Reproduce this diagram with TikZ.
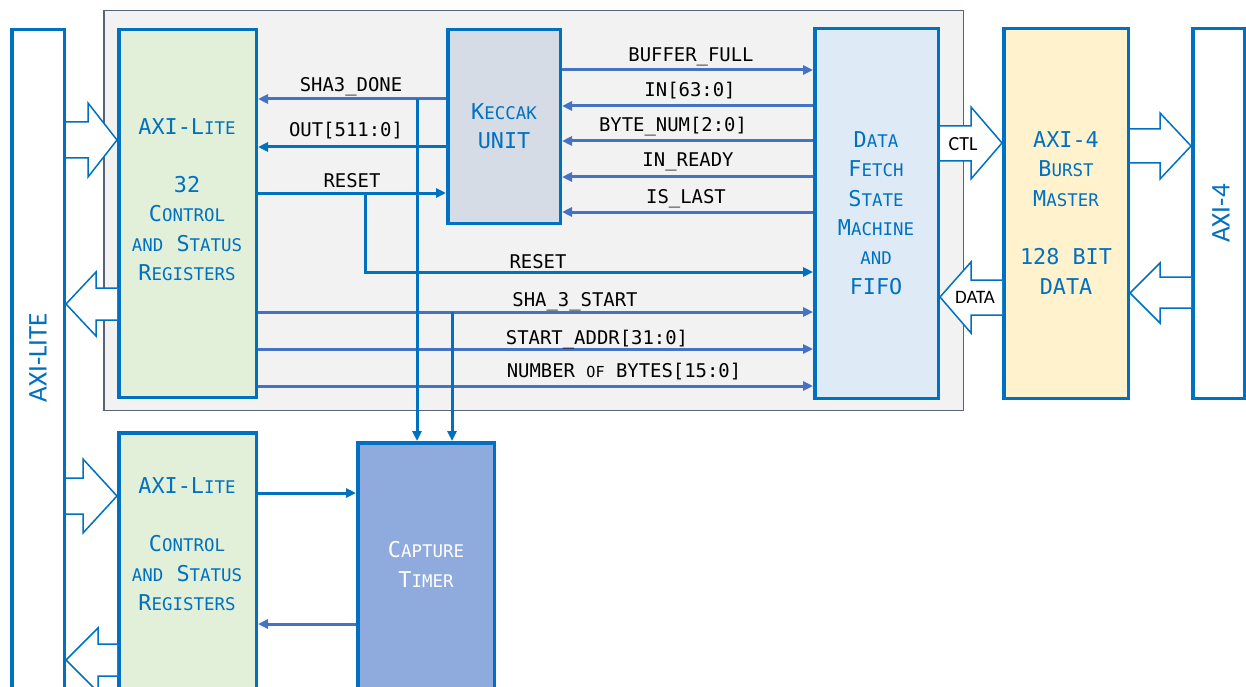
\documentclass[tikz,border=0pt]{standalone}
\usepackage{fontspec}
\usetikzlibrary{arrows.meta}
\newfontfamily\monof{DejaVu Sans Mono}
\newfontfamily\carlf{Carlito}
\makeatletter
\newcommand\smc[1]{{\@tempdima=\f@size pt\@tempdima=0.8\@tempdima\fontsize{\strip@pt\@tempdima}{\baselineskip}\selectfont #1}}
\makeatother
\definecolor{cblue}{HTML}{0070C0}
\definecolor{clight}{HTML}{4472C4}
\definecolor{fgreen}{HTML}{E2F0D9}
\definecolor{fkec}{HTML}{D6DCE5}
\definecolor{fdfsm}{HTML}{DEEBF7}
\definecolor{fmaster}{HTML}{FFF2CC}
\definecolor{fcap}{HTML}{8FAADC}
\definecolor{fframe}{HTML}{F2F2F2}
\definecolor{cframe}{HTML}{596378}
\begin{document}
\begin{tikzpicture}[x=1pt,y=-1pt,
  box/.style={draw=cblue, line width=3.5pt, inner sep=0pt, anchor=north west},
  sigA/.style={draw=cblue, line width=3pt, -{Triangle[length=10pt,width=9pt]}},
  sigB/.style={draw=clight, line width=3pt, -{Triangle[length=10pt,width=9pt]}},
  lbl/.style={font=\monof\fontsize{18.9}{22}\selectfont, anchor=base, inner sep=0pt},
  btxt/.style={font=\monof\fontsize{21.8}{29.3}\selectfont, text=cblue, align=center, inner sep=0pt},
  barlbl/.style={font=\carlf\fontsize{27}{30}\selectfont, text=cblue, rotate=90, inner sep=0pt},
  blk/.style={draw=cblue, fill=white, line width=1.5pt, line join=miter}]
\useasboundingbox (0,0) rectangle (1246,687);
\clip (0,0) rectangle (1246,687);
% frame
\node[draw=cframe, fill=fframe, line width=1.5pt, inner sep=0pt, anchor=north west,
  minimum width=859.5, minimum height=399.5] (frame) at (103,10) {};
% boxes
\node[box, fill=white, minimum width=52.5, minimum height=668] (axil) at (10,28) {};
\node[box, fill=fgreen, minimum width=137.5, minimum height=367.5] (csr1) at (117,28) {};
\node[box, fill=fkec, minimum width=112.5, minimum height=193.5] (keccak) at (446,28) {};
\node[box, fill=fdfsm, minimum width=123.5, minimum height=369.5] (dfsm) at (813,27) {};
\node[box, fill=fmaster, minimum width=124.5, minimum height=369.5] (master) at (1002,27) {};
\node[box, fill=white, minimum width=51.5, minimum height=369.5] (axi4) at (1191,27) {};
\node[box, fill=fgreen, minimum width=137.5, minimum height=265.5] (csr2) at (117,431) {};
\node[box, fill=fcap, minimum width=136.5, minimum height=255.5] (capture) at (356,441) {};
% box texts
\node[btxt] (csr1txt) at (187,199.5) {AXI-L\smc{ITE}\\[29.3pt]32\\C\smc{ONTROL}\\\smc{AND} S\smc{TATUS}\\R\smc{EGISTERS}};
\node[btxt] (kectxt) at (504,126) {K\smc{ECCAK}\\UNIT};
\node[btxt] (dfsmtxt) at (876,213) {D\smc{ATA}\\F\smc{ETCH}\\S\smc{TATE}\\M\smc{ACHINE}\\\smc{AND}\\FIFO};
\node[btxt] (mastertxt) at (1066,213) {AXI-4\\B\smc{URST}\\M\smc{ASTER}\\[29.3pt]128 BIT\\DATA};
\node[btxt] (csr2txt) at (187,544) {AXI-L\smc{ITE}\\[29.3pt]C\smc{ONTROL}\\\smc{AND} S\smc{TATUS}\\R\smc{EGISTERS}};
\node[btxt, text=white] (captxt) at (426,564.5) {C\smc{APTURE}\\T\smc{IMER}};
\node[barlbl] (axiltxt) at (38,357.5) {AXI-LITE};
\node[barlbl] (axi4txt) at (1221,213.5) {AXI-4};
% block arrows
\draw[blk] (axil.east |- 0,122) -- (88,122) -- (88,103) -- (csr1.west |- 0,140) -- (88,177) -- (88,158) -- (axil.east |- 0,158);
\draw[blk] (csr1.west |- 0,288) -- (96,288) -- (96,272) -- (axil.east |- 0,304) -- (96,336) -- (96,320) -- (csr1.west |- 0,320);
\draw[blk] (axil.east |- 0,478) -- (83,478) -- (83,459) -- (csr2.west |- 0,496) -- (83,533) -- (83,514) -- (axil.east |- 0,514);
\draw[blk] (csr2.west |- 0,644) -- (98,644) -- (98,628) -- (axil.east |- 0,660) -- (98,692) -- (98,676) -- (csr2.west |- 0,676);
\draw[blk] (dfsm.east |- 0,126) -- (971,126) -- (971,107) -- (master.west |- 0,143) -- (971,179) -- (971,161) -- (dfsm.east |- 0,161);
\draw[blk] (master.west |- 0,280) -- (971,280) -- (971,262) -- (dfsm.east |- 0,297) -- (971,333) -- (971,315) -- (master.west |- 0,315);
\draw[blk] (master.east |- 0,129) -- (1160,129) -- (1160,113) -- (axi4.west |- 0,146) -- (1160,179) -- (1160,163) -- (master.east |- 0,163);
\draw[blk] (axi4.west |- 0,277) -- (1160,277) -- (1160,263) -- (master.east |- 0,293) -- (1160,323) -- (1160,308) -- (axi4.west |- 0,308);
\node[font=\carlf\fontsize{20}{24}\selectfont, inner sep=0pt] (ctl) at (963,144.5) {CTL};
\node[font=\carlf\fontsize{19}{24}\selectfont, inner sep=0pt] (datal) at (975,297) {DATA};
% signals
\coordinate (jd) at (417,99);
\coordinate (jr) at (365,193);
\coordinate (js) at (452,312);
\draw[sigB] (keccak.west |- 0,99) -- (csr1.east |- 0,99);
\draw[sigA] (keccak.west |- 0,147) -- (csr1.east |- 0,147);
\draw[sigA] (csr1.east |- 0,193) -- (keccak.west |- 0,193);
\draw[sigA] (jr) |- (dfsm.west |- 0,272);
\draw[sigB] (keccak.east |- 0,70) -- (dfsm.west |- 0,70);
\draw[sigB] (dfsm.west |- 0,106) -- (keccak.east |- 0,106);
\draw[sigB] (dfsm.west |- 0,141) -- (keccak.east |- 0,141);
\draw[sigB] (dfsm.west |- 0,177) -- (keccak.east |- 0,177);
\draw[sigB] (dfsm.west |- 0,212) -- (keccak.east |- 0,212);
\draw[sigB] (csr1.east |- 0,312) -- (dfsm.west |- 0,312);
\draw[sigB] (csr1.east |- 0,349) -- (dfsm.west |- 0,349);
\draw[sigB] (csr1.east |- 0,386) -- (dfsm.west |- 0,386);
\draw[sigA] (jd) -- (capture.north -| jd);
\draw[sigA] (js) -- (capture.north -| js);
\draw[sigA] (csr2.east |- 0,493) -- (capture.west |- 0,493);
\draw[sigB] (capture.west |- 0,624) -- (csr2.east |- 0,624);
% labels
\node[lbl] (l1) at (351,92) {SHA3\_DONE};
\node[lbl] (l2) at (346,137) {OUT[511:0]};
\node[lbl] (l3) at (352,187) {RESET};
\node[lbl] (l4) at (691,62) {BUFFER\_FULL};
\node[lbl] (l5) at (690,97) {IN[63:0]};
\node[lbl] (l6) at (673,132) {BYTE\_NUM[2:0]};
\node[lbl] (l7) at (688,167) {IN\_READY};
\node[lbl] (l8) at (686,204) {IS\_LAST};
\node[lbl] (l9) at (538,268) {RESET};
\node[lbl] (l10) at (575,306) {SHA\_3\_START};
\node[lbl] (l11) at (597,344) {START\_ADDR[31:0]};
\node[lbl] (l12) at (624,377) {NUMBER \smc{OF} BYTES[15:0]};
\end{tikzpicture}
\end{document}
